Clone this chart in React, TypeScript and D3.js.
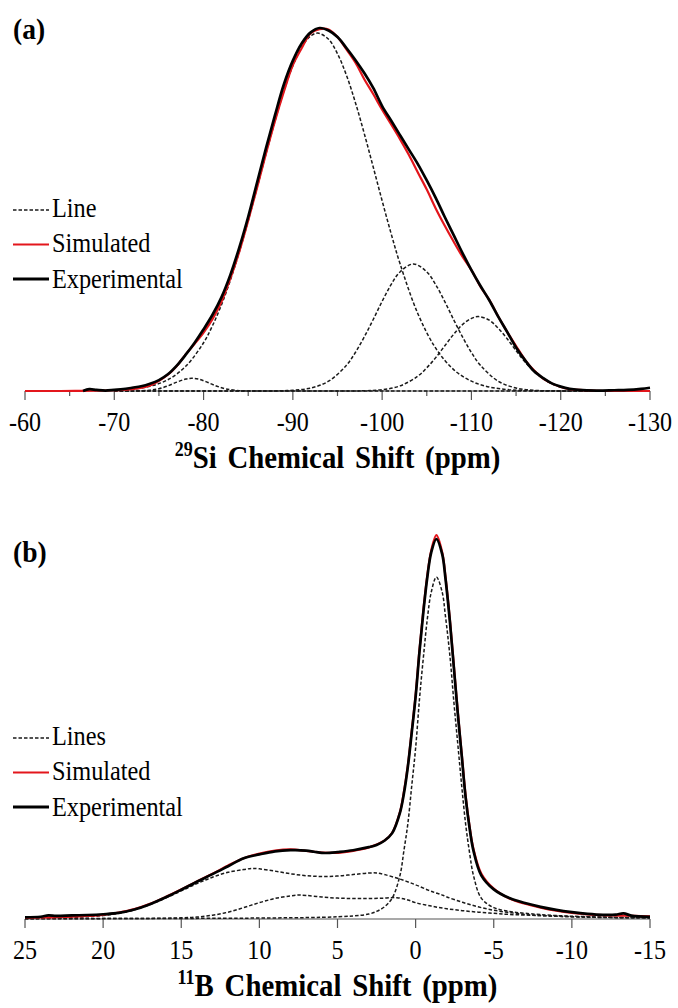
import React from "react";
import * as d3 from "d3";

type P = [number, number];

// ---------- Panel (a): 29Si ----------
const siTicks = [-60, -70, -80, -90, -100, -110, -120, -130];
const siMinorTicks = [-65, -75, -85, -95, -105, -115, -125];

const siExperimental: P[] = [
  [-66.5, 0.0], [-67.2, 0.5], [-68, 0.3], [-69, 0.1], [-70, 0.3], [-71, 0.5], [-72, 0.9], [-73, 1.3],
  [-74, 2.0], [-75, 3.0], [-76, 4.6], [-77, 7.0], [-78, 10.0], [-79, 13.3], [-80, 17.0], [-81, 21.0],
  [-82, 25.8], [-83, 32.0], [-84, 39.5], [-85, 48.0], [-86, 57.5], [-87, 67.0], [-88, 76.0], [-89, 84.5],
  [-90, 91.0], [-91, 95.8], [-92, 98.8], [-93, 100], [-94, 99.3], [-95, 97.5], [-96, 94.5], [-97, 91.2],
  [-98, 87.6], [-99, 83.5], [-100, 78.5], [-101, 74.5], [-102, 70.5], [-103, 66.5], [-104, 62.5],
  [-105, 58.0], [-106, 53.2], [-107, 48.0], [-108, 43.0], [-109, 38.0], [-110, 33.3], [-111, 29.0],
  [-112, 25.0], [-113, 20.5], [-114, 16.3], [-115, 12.0], [-116, 8.5], [-117, 5.5], [-118, 3.6],
  [-119, 2.1], [-120, 1.2], [-121, 0.6], [-122, 0.3], [-124, 0.1], [-126, 0.2], [-127.5, 0.3],
  [-129, 0.6], [-130, 0.9],
];

const siSimulated: P[] = [
  [-60, 0], [-62, 0], [-64, 0], [-66, 0.02], [-68, 0.08], [-70, 0.2], [-72, 0.5], [-74, 1.5], [-76, 4.5],
  [-77, 6.9], [-78, 10.1], [-79, 13.0], [-80, 16.1], [-81, 19.8], [-82, 24.6], [-83, 31.0], [-84, 38.4],
  [-85, 47.0], [-86, 56.1], [-87, 65.5], [-88, 74.4], [-89, 82.5], [-90, 89.8], [-91, 94.5], [-92, 98.6],
  [-93, 99.7], [-94, 99.6], [-95, 97.5], [-96, 94.1], [-97, 90.5], [-98, 85.9], [-99, 81.8], [-100, 77.5],
  [-101, 73.5], [-102, 69.4], [-103, 65.0], [-104, 60.2], [-105, 55.5], [-106, 50.3], [-107, 45.6],
  [-108, 41.2], [-109, 37.0], [-110, 33.3], [-111, 28.8], [-112, 25.1], [-113, 20.5], [-114, 16.3],
  [-115, 12.4], [-116, 8.6], [-117, 5.7], [-118, 3.5], [-119, 2.1], [-120, 1.1], [-121, 0.5], [-122, 0.3],
  [-124, 0.05], [-126, 0], [-128, 0], [-130, 0],
];

const siLine1: P[] = [
  [-70, 0.17], [-72, 0.5], [-74, 1.3], [-76, 3.1], [-78, 6.8], [-80, 13.3], [-81, 18.0], [-82, 23.7],
  [-83, 30.5], [-84, 38.3], [-85, 46.9], [-86, 56.1], [-87, 65.4], [-88, 74.4], [-89, 82.7], [-90, 89.6],
  [-91, 94.8], [-92, 97.8], [-92.8, 98.6], [-94, 96.9], [-95, 92.9], [-96, 87.0], [-97, 79.5], [-98, 70.9],
  [-99, 61.7], [-100, 52.4], [-101, 43.4], [-102, 35.1], [-104, 21.3], [-106, 11.8], [-108, 5.9],
  [-110, 2.7], [-112, 1.1], [-114, 0.4], [-116, 0.14], [-118, 0.04], [-120, 0.01], [-125, 0],
];

const siLine2: P[] = [
  [-70, 0], [-72, 0.01], [-74, 0.22], [-75, 0.63], [-76, 1.41], [-77, 2.44], [-78, 3.29], [-78.7, 3.5],
  [-79.5, 3.23], [-80.5, 2.33], [-81.5, 1.31], [-82.5, 0.58], [-84, 0.1], [-86, 0.01], [-90, 0],
  [-100, 0], [-110, 0], [-120, 0], [-125, 0],
];

const siLine3: P[] = [
  [-70, 0], [-85, 0], [-88, 0.03], [-90, 0.2], [-92, 0.82], [-94, 2.7], [-96, 7.1], [-97, 10.6],
  [-98, 14.9], [-99, 19.7], [-100, 24.7], [-101, 29.3], [-102, 32.8], [-103.5, 35], [-105, 32.8],
  [-106, 29.3], [-107, 24.7], [-108, 19.7], [-109, 14.9], [-110, 10.6], [-111, 7.1], [-113, 2.7],
  [-115, 0.82], [-117, 0.2], [-120, 0.02], [-125, 0],
];

const siLine4: P[] = [
  [-70, 0], [-90, 0], [-96, 0.01], [-98, 0.07], [-100, 0.36], [-102, 1.4], [-104, 4.1], [-105, 6.4],
  [-106, 9.2], [-107, 12.4], [-108, 15.6], [-109, 18.3], [-110, 20.0], [-110.8, 20.5], [-112, 19.5],
  [-113, 17.3], [-114, 14.4], [-115, 11.1], [-116, 8.0], [-117, 5.4], [-118, 3.4], [-119, 2.0],
  [-120, 1.1], [-121, 0.55], [-122, 0.27], [-124, 0.05], [-125, 0],
];

// ---------- Panel (b): 11B ----------
const bTicks = [25, 20, 15, 10, 5, 0, -5, -10, -15];

const bExperimental: P[] = [
  [25, 0.45], [24, 0.6], [23.5, 0.95], [23, 0.8], [22, 0.95], [21, 1.05], [20, 1.25], [19, 1.6],
  [18, 2.5], [17, 3.9], [16, 5.7], [15, 7.7], [14, 9.8], [13, 11.8], [12, 13.9], [11, 16.0], [10, 17.0],
  [9, 17.8], [8, 18.1], [7, 18.0], [6.5, 17.7], [6, 17.4], [5.5, 17.4], [5, 17.6], [4, 18.1], [3, 18.9],
  [2.5, 19.5], [2, 20.6], [1.5, 22.6], [1, 28], [0.75, 33], [0.5, 40], [0.25, 49], [0, 58.5],
  [-0.25, 70.5], [-0.5, 81], [-0.75, 90], [-1, 96.5], [-1.33, 100], [-1.7, 96], [-1.9, 90], [-2.2, 78],
  [-2.45, 66], [-2.7, 54], [-2.95, 43], [-3.2, 32], [-3.45, 24], [-3.7, 18], [-4.2, 11.5], [-5, 7.8],
  [-6, 5.5], [-7, 4.2], [-8, 3.2], [-9, 2.4], [-10, 1.8], [-11, 1.35], [-12, 1.1], [-12.8, 1.15],
  [-13.3, 1.5], [-13.8, 0.9], [-15, 0.55],
];

const bSimulated: P[] = [
  [25, 0.3], [24, 0.4], [23, 0.5], [22, 0.6], [21, 0.8], [20, 1.1], [19, 1.7], [18, 2.6], [17, 4.0],
  [16, 5.8], [15, 7.8], [14, 9.9], [13, 11.9], [12, 14.1], [11, 16.0], [10, 17.2], [9, 18.0], [8, 18.3],
  [7, 17.9], [6, 17.5], [5, 17.4], [4, 17.9], [3, 18.8], [2.5, 19.6], [2, 20.6], [1.5, 22.7], [1, 28.2],
  [0.75, 33.5], [0.5, 40.3], [0.25, 49.5], [0, 59], [-0.25, 71], [-0.5, 81.5], [-0.75, 90.5], [-1, 97],
  [-1.33, 101], [-1.7, 96.5], [-1.9, 90.5], [-2.2, 78.5], [-2.45, 66.5], [-2.7, 54.5], [-2.95, 43.5],
  [-3.2, 32.5], [-3.45, 24.5], [-3.7, 18.5], [-4.2, 12], [-5, 8.0], [-6, 5.4], [-7, 4.0], [-8, 3.0],
  [-9, 2.2], [-10, 1.6], [-11, 1.2], [-12, 1.0], [-13, 0.9], [-14, 0.8], [-15, 0.7],
];

const bLineNarrow: P[] = [
  [25, 0.1], [15, 0.15], [10, 0.25], [6, 0.45], [4, 0.8], [3, 1.3], [2.5, 2.0], [2, 3.2], [1.5, 5.5],
  [1, 11.5], [0.75, 18], [0.5, 25], [0.25, 35], [0, 45], [-0.25, 58], [-0.5, 69], [-0.75, 79], [-1, 86],
  [-1.33, 90], [-1.7, 86], [-1.9, 80], [-2.2, 69], [-2.45, 57], [-2.7, 46], [-2.95, 35], [-3.2, 25],
  [-3.45, 17.5], [-3.7, 11.5], [-4.2, 5.5], [-5, 3.0], [-6, 2.0], [-7, 1.5], [-9, 0.9], [-12, 0.5],
  [-15, 0.3],
];

const bLineA: P[] = [
  [25, 0.1], [22, 0.4], [20, 0.9], [19, 1.5], [18, 2.4], [17, 3.8], [16, 5.5], [15, 7.4], [14, 9.3],
  [13, 11.0], [12, 12.3], [11, 13.0], [10.5, 13.3], [10, 13.2], [9, 12.6], [8, 11.9], [7, 11.4],
  [6, 11.2], [5, 11.3], [4, 11.7], [3, 12.1], [2.5, 12.1], [2, 11.7], [1, 10.5], [0, 9.0], [-0.8, 7.6],
  [-1.2, 7.0], [-1.6, 6.5], [-2, 5.8], [-3, 4.4], [-4, 3.2], [-5, 2.3], [-6, 1.7], [-7, 1.2], [-8, 0.9],
  [-10, 0.6], [-12, 0.4], [-15, 0.3],
];

const bLineB: P[] = [
  [25, 0.05], [20, 0.1], [17, 0.15], [15, 0.3], [14, 0.5], [13, 1.0], [12, 1.8], [11, 3.0], [10, 4.3],
  [9, 5.4], [8, 6.1], [7.5, 6.3], [7, 6.2], [6, 5.8], [5, 5.5], [4, 5.4], [3, 5.4], [2, 5.5], [1.2, 5.6],
  [0.5, 5.0], [0, 4.3], [-1, 3.4], [-2, 2.7], [-3, 2.2], [-4, 1.8], [-5, 1.5], [-6, 1.2], [-8, 0.9],
  [-10, 0.6], [-12, 0.45], [-15, 0.35],
];

const RED = "#e3161c";
const FONT = "'Liberation Serif', 'Times New Roman', serif";

function SText(props: { x: number; y: number; sx: number; size: number; anchor?: string; bold?: boolean; children: React.ReactNode; wordSpacing?: number }) {
  return (
    <text
      transform={`translate(${props.x},${props.y}) scale(${props.sx},1)`}
      textAnchor={props.anchor || "start"}
      fontFamily={FONT}
      fontWeight={props.bold ? "bold" : "normal"}
      fontSize={props.size}
      wordSpacing={props.wordSpacing}
    >
      {props.children}
    </text>
  );
}

function Panel(props: {
  xDomain: [number, number];
  axisY: number;
  peakY: number;
  ticks: number[];
  minorTicks: number[];
  experimental: P[];
  simulated: P[];
  lines: P[][];
  label: string;
  labelY: number;
  legendLine: string;
  legendTop: number;
  titleSup: string;
  titleMain: string;
}) {
  const x = d3.scaleLinear().domain(props.xDomain).range([25, 650]);
  const y = d3.scaleLinear().domain([0, 100]).range([props.axisY, props.peakY]);
  const line = d3
    .line<P>()
    .x((d) => x(d[0]))
    .y((d) => y(d[1]))
    .curve(d3.curveCatmullRom.alpha(0.5));
  const ay = props.axisY;
  const lt = props.legendTop;
  return (
    <g>
      <SText x={13} y={props.labelY} sx={0.95} size={29} bold>
        {props.label}
      </SText>
      {/* axis */}
      <line x1={25} x2={650} y1={ay} y2={ay} stroke="#555" strokeWidth={1.2} />
      {props.ticks.map((t) => (
        <g key={"t" + t}>
          <line x1={x(t)} x2={x(t)} y1={ay} y2={ay + 9} stroke="#555" strokeWidth={1.2} />
          <SText x={x(t)} y={ay + 40} sx={0.86} size={28} anchor="middle">
            {t}
          </SText>
        </g>
      ))}
      {props.minorTicks.map((t) => (
        <line key={"m" + t} x1={x(t)} x2={x(t)} y1={ay} y2={ay + 5} stroke="#555" strokeWidth={1.2} />
      ))}
      {/* curves */}
      {props.lines.map((l, i) => (
        <path key={"l" + i} d={line(l) || ""} fill="none" stroke="#1a1a1a" strokeWidth={1.5} strokeDasharray="3.5,2" />
      ))}
      <path d={line(props.simulated) || ""} fill="none" stroke={RED} strokeWidth={2.2} />
      <path d={line(props.experimental) || ""} fill="none" stroke="#000" strokeWidth={2.7} />
      {/* legend */}
      <line x1={13} x2={49} y1={lt} y2={lt} stroke="#1a1a1a" strokeWidth={1.5} strokeDasharray="3.5,2" />
      <SText x={52} y={lt + 7} sx={0.9} size={27}>{props.legendLine}</SText>
      <line x1={13} x2={49} y1={lt + 34.5} y2={lt + 34.5} stroke={RED} strokeWidth={1.8} />
      <SText x={52} y={lt + 42} sx={0.9} size={27}>Simulated</SText>
      <line x1={13} x2={49} y1={lt + 69} y2={lt + 69} stroke="#000" strokeWidth={2.8} />
      <SText x={52} y={lt + 77.5} sx={0.9} size={27}>Experimental</SText>
      {/* title */}
      <SText x={337.5} y={ay + 77} sx={0.9} size={32} anchor="middle" bold wordSpacing={4}>
        <tspan fontSize={20} dy={-12}>{props.titleSup}</tspan>
        <tspan dy={12}>{props.titleMain}</tspan>
      </SText>
    </g>
  );
}

export default function App() {
  return (
    <svg
      width={678}
      height={1008}
      style={{ position: "absolute", left: 0, top: 0, background: "#fff" }}
    >
      <rect x={0} y={0} width={678} height={1008} fill="#fff" />
      <Panel
        xDomain={[-60, -130]}
        axisY={391}
        peakY={28}
        ticks={siTicks}
        minorTicks={siMinorTicks}
        experimental={siExperimental}
        simulated={siSimulated}
        lines={[siLine1, siLine2, siLine3, siLine4]}
        label="(a)"
        labelY={39}
        legendLine="Line"
        legendTop={210}
        titleSup="29"
        titleMain="Si Chemical Shift (ppm)"
      />
      <Panel
        xDomain={[25, -15]}
        axisY={919}
        peakY={539}
        ticks={bTicks}
        minorTicks={[]}
        experimental={bExperimental}
        simulated={bSimulated}
        lines={[bLineA, bLineB, bLineNarrow]}
        label="(b)"
        labelY={562}
        legendLine="Lines"
        legendTop={738}
        titleSup="11"
        titleMain="B Chemical Shift (ppm)"
      />
    </svg>
  );
}
